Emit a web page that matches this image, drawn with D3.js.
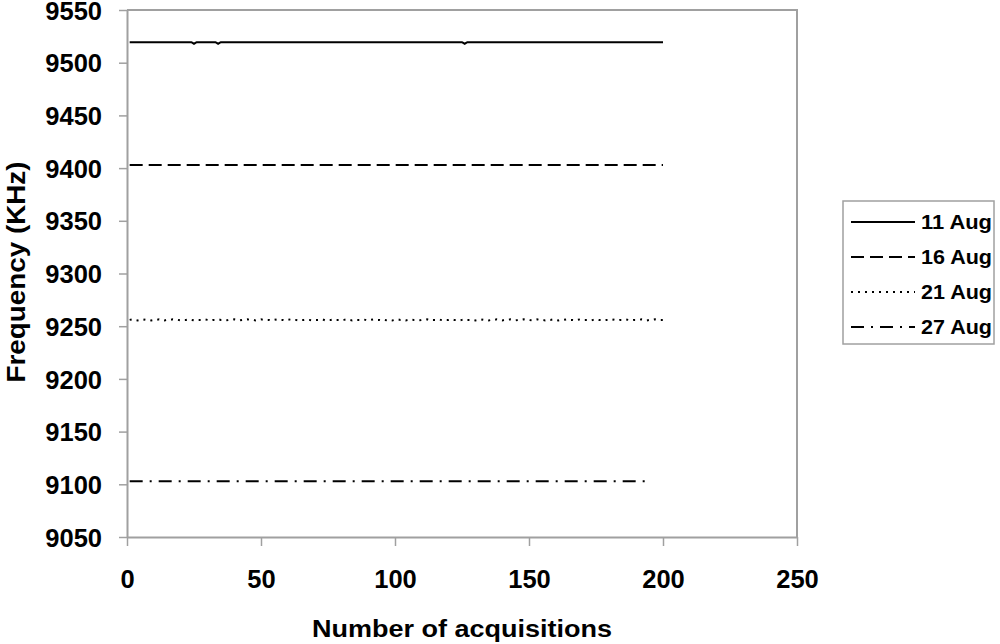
<!DOCTYPE html>
<html><head><meta charset="utf-8">
<script src="https://cdn.jsdelivr.net/npm/d3@7"></script>
<style>
body{margin:0;background:#fff}
text{font-family:"Liberation Sans",Arial,sans-serif;font-weight:bold;fill:#000}
</style></head>
<body><svg id="c" width="1000" height="644"></svg>
<script>
const xTicks=[0,50,100,150,200,250];
const yTicks=[9050,9100,9150,9200,9250,9300,9350,9400,9450,9500,9550];
const seriesNames=["11 Aug","16 Aug","21 Aug","27 Aug"];

const aug11=[
9519.5,9519.5,9519.5,9519.5,9519.5,9519.5,9519.5,9519.5,9519.5,9519.5,9519.5,9519.5,9519.5,9519.5,9519.5,9519.5,9519.5,9519.5,9519.5,9519.5,
9519.5,9519.5,9519.5,9519.5,9518,9519.5,9519.5,9519.5,9519.5,9519.5,9519.5,9519.5,9519.5,9518,9519.5,9519.5,9519.5,9519.5,9519.5,9519.5,
9519.5,9519.5,9519.5,9519.5,9519.5,9519.5,9519.5,9519.5,9519.5,9519.5,9519.5,9519.5,9519.5,9519.5,9519.5,9519.5,9519.5,9519.5,9519.5,9519.5,
9519.5,9519.5,9519.5,9519.5,9519.5,9519.5,9519.5,9519.5,9519.5,9519.5,9519.5,9519.5,9519.5,9519.5,9519.5,9519.5,9519.5,9519.5,9519.5,9519.5,
9519.5,9519.5,9519.5,9519.5,9519.5,9519.5,9519.5,9519.5,9519.5,9519.5,9519.5,9519.5,9519.5,9519.5,9519.5,9519.5,9519.5,9519.5,9519.5,9519.5,
9519.5,9519.5,9519.5,9519.5,9519.5,9519.5,9519.5,9519.5,9519.5,9519.5,9519.5,9519.5,9519.5,9519.5,9519.5,9519.5,9519.5,9519.5,9519.5,9519.5,
9519.5,9519.5,9519.5,9519.5,9519.5,9518,9519.5,9519.5,9519.5,9519.5,9519.5,9519.5,9519.5,9519.5,9519.5,9519.5,9519.5,9519.5,9519.5,9519.5,
9519.5,9519.5,9519.5,9519.5,9519.5,9519.5,9519.5,9519.5,9519.5,9519.5,9519.5,9519.5,9519.5,9519.5,9519.5,9519.5,9519.5,9519.5,9519.5,9519.5,
9519.5,9519.5,9519.5,9519.5,9519.5,9519.5,9519.5,9519.5,9519.5,9519.5,9519.5,9519.5,9519.5,9519.5,9519.5,9519.5,9519.5,9519.5,9519.5,9519.5,
9519.5,9519.5,9519.5,9519.5,9519.5,9519.5,9519.5,9519.5,9519.5,9519.5,9519.5,9519.5,9519.5,9519.5,9519.5,9519.5,9519.5,9519.5,9519.5,9519.5
];
const aug16=[
9403,9403,9403,9403,9403,9403,9403,9403,9403,9403,9403,9403,9403,9403,9403,9403,9403,9403,9403,9403,
9403,9403,9403,9403,9403,9403,9403,9403,9403,9403,9403,9403,9403,9403,9403,9403,9403,9403,9403,9403,
9403,9403,9403,9403,9403,9403,9403,9403,9403,9403,9403,9403,9403,9403,9403,9403,9403,9403,9403,9403,
9403,9403,9403,9403,9403,9403,9403,9403,9403,9403,9403,9403,9403,9403,9403,9403,9403,9403,9403,9403,
9403,9403,9403,9403,9403,9403,9403,9403,9403,9403,9403,9403,9403,9403,9403,9403,9403,9403,9403,9403,
9403,9403,9403,9403,9403,9403,9403,9403,9403,9403,9403,9403,9403,9403,9403,9403,9403,9403,9403,9403,
9403,9403,9403,9403,9403,9403,9403,9403,9403,9403,9403,9403,9403,9403,9403,9403,9403,9403,9403,9403,
9403,9403,9403,9403,9403,9403,9403,9403,9403,9403,9403,9403,9403,9403,9403,9403,9403,9403,9403,9403,
9403,9403,9403,9403,9403,9403,9403,9403,9403,9403,9403,9403,9403,9403,9403,9403,9403,9403,9403,9403,
9403,9403,9403,9403,9403,9403,9403,9403,9403,9403,9403,9403,9403,9403,9403,9403,9403,9403,9403,9403
];
const aug21=[
9256,9256.5,9256,9255.5,9256,9256.5,9256,9256,9255.5,9256,9256,9256.5,9256,9255.5,9256,9256,9256.5,9256,9256,9255.5,
9256,9256,9256.5,9256,9255.5,9256,9256,9256,9256.5,9256,9255.5,9256,9256,9256.5,9256,9256,9255.5,9256,9256,9256.5,
9256,9255.5,9256,9256,9256.5,9256,9256,9255.5,9256,9256.5,9256,9256,9256,9255.5,9256,9256.5,9256,9256,9255.5,9256,
9256.5,9256,9256,9255.5,9256,9256,9256.5,9256,9255.5,9256,9256,9256,9256.5,9255.5,9256,9256,9256.5,9256,9256,9255.5,
9256,9256.5,9256,9255.5,9256,9256,9256,9256.5,9256,9255.5,9256,9256.5,9256,9256,9255.5,9256,9255.5,9256,9255.5,9256,
9256.5,9256,9256,9255.5,9256,9256.5,9256,9256,9255.5,9256,9256,9256.5,9255.5,9256,9256,9256.5,9256,9255.5,9256,9256,
9256.5,9256,9256,9255.5,9256,9256.5,9256,9256,9256,9255.5,9256,9256.5,9256,9256,9255.5,9256,9256,9256.5,9256,9255.5,
9256,9256,9256.5,9256,9255.5,9256,9256,9256.5,9256,9256,9255.5,9256,9256.5,9256,9256,9255.5,9256,9256,9256.5,9256,
9255.5,9256,9256,9256.5,9256,9256,9255.5,9256,9256.5,9256,9256,9256,9255.5,9256,9256.5,9256,9256,9255.5,9256,9256,
9256.5,9256,9255.5,9256,9256,9256.5,9256,9255.5,9256,9256,9256,9256.5,9256,9255.5,9256,9256,9256.5,9256,9256,9256
];
const aug27=[
9103,9103,9103,9103,9103,9103,9103,9103,9103,9103,9103,9103,9103,9103,9103,9103,9103,9103,9103,9103,
9103,9103,9103,9103,9103,9103,9103,9103,9103,9103,9103,9103,9103,9103,9103,9103,9103,9103,9103,9103,
9103,9103,9103,9103,9103,9103,9103,9103,9103,9103,9103,9103,9103,9103,9103,9103,9103,9103,9103,9103,
9103,9103,9103,9103,9103,9103,9103,9103,9103,9103,9103,9103,9103,9103,9103,9103,9103,9103,9103,9103,
9103,9103,9103,9103,9103,9103,9103,9103,9103,9103,9103,9103,9103,9103,9103,9103,9103,9103,9103,9103,
9103,9103,9103,9103,9103,9103,9103,9103,9103,9103,9103,9103,9103,9103,9103,9103,9103,9103,9103,9103,
9103,9103,9103,9103,9103,9103,9103,9103,9103,9103,9103,9103,9103,9103,9103,9103,9103,9103,9103,9103,
9103,9103,9103,9103,9103,9103,9103,9103,9103,9103,9103,9103,9103,9103,9103,9103,9103,9103,9103,9103,
9103,9103,9103,9103,9103,9103,9103,9103,9103,9103,9103,9103,9103,9103,9103,9103,9103,9103,9103,9103,
9103,9103,9103,9103,9103,9103,9103,9103,9103,9103,9103,9103,9103,9103
];

const seriesValues=[aug11,aug16,aug21,aug27];
const dashes=[null,"13,6","2,5","13,7,2,7"];

const svg=d3.select("#c");
const L=127,T=10,R=797,B=537;
const x=d3.scaleLinear().domain([0,250]).range([L,R]);
const y=d3.scaleLinear().domain([9050,9550]).range([B,T]);
const axisCol="#a0a0a0";

svg.append("path").attr("d",`M${L},${T}H${R}V${B}`).attr("fill","none").attr("stroke",axisCol).attr("stroke-width",2);

const ya=svg.append("g").attr("transform",`translate(${L},0)`)
 .call(d3.axisLeft(y).tickValues(yTicks).tickFormat(d3.format("d")).tickSize(8).tickSizeOuter(0).tickPadding(17));
const xa=svg.append("g").attr("transform",`translate(0,${B})`)
 .call(d3.axisBottom(x).tickValues(xTicks).tickFormat(d3.format("d")).tickSize(9).tickSizeOuter(0).tickPadding(24));
[ya,xa].forEach(a=>{
  a.select(".domain").attr("stroke",axisCol).attr("stroke-width",2);
  a.selectAll(".tick line").attr("stroke",axisCol).attr("stroke-width",1.5);
  a.selectAll(".tick text").style("font-size","25.5px").attr("fill","#000");
});
ya.selectAll(".tick text").attr("dy","0.36em");

const line=d3.line().x((d,i)=>x(i+1)).y(d=>y(d));
seriesValues.forEach((vals,k)=>{
  svg.append("path").datum(vals).attr("d",line).attr("fill","none")
   .attr("stroke","#000").attr("stroke-width",2)
   .attr("stroke-dasharray",dashes[k]);
});

svg.append("text").attr("x",462).attr("y",637).attr("text-anchor","middle")
 .style("font-size","23px").attr("textLength",300).attr("lengthAdjust","spacingAndGlyphs")
 .text("Number of acquisitions");
svg.append("text").attr("transform","translate(25,272) rotate(-90)").attr("text-anchor","middle")
 .style("font-size","25px").attr("textLength",221).attr("lengthAdjust","spacingAndGlyphs")
 .text("Frequency (KHz)");

svg.append("rect").attr("x",843).attr("y",201).attr("width",151).attr("height",143)
 .attr("fill","#fff").attr("stroke",axisCol).attr("stroke-width",1.5);
const rowY=[222,257,292,327];
seriesNames.forEach((n,k)=>{
  svg.append("line").attr("x1",851).attr("x2",915).attr("y1",rowY[k]).attr("y2",rowY[k])
   .attr("stroke","#000").attr("stroke-width",2).attr("stroke-dasharray",dashes[k]);
  svg.append("text").attr("x",992).attr("y",rowY[k]+6.5).attr("text-anchor","end")
   .style("font-size","19.5px").attr("textLength",71).attr("lengthAdjust","spacingAndGlyphs")
   .text(n);
});
</script></body></html>
